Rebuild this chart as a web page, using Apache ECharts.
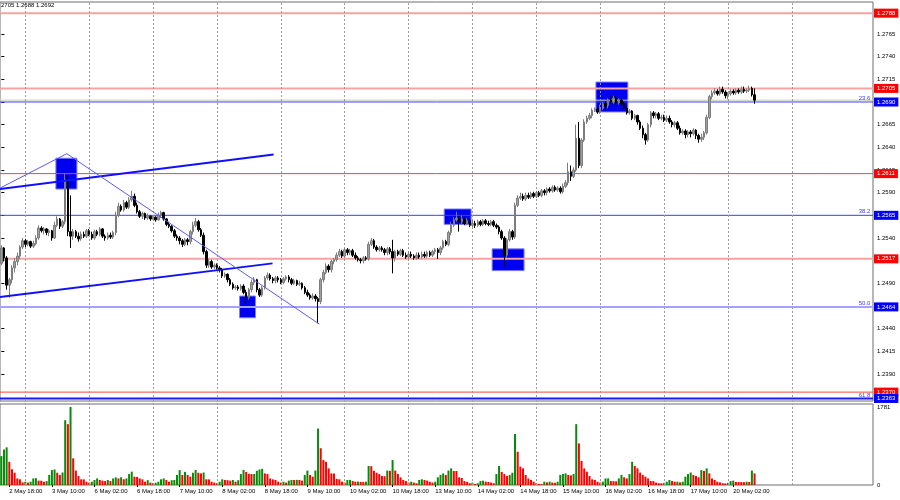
<!DOCTYPE html>
<html><head><meta charset="utf-8">
<script src="https://cdn.jsdelivr.net/npm/echarts@6/dist/echarts.min.js"></script>
<style>html,body{margin:0;padding:0;background:#fff}#c{width:900px;height:500px}</style>
</head><body><div id="c"></div>
<script>
// hourly bars GBPUSD H1, rows: [open, close, low, high]
const candles = [
[1.2512,1.2529,1.2510,1.2532],[1.2529,1.2518,1.2514,1.2530],[1.2518,1.2488,1.2483,1.2520],[1.2488,1.2494,1.2474,1.2496],[1.2494,1.2507,1.2490,1.2510],
[1.2507,1.2514,1.2502,1.2518],[1.2514,1.2520,1.2510,1.2524],[1.2520,1.2530,1.2517,1.2532],[1.2530,1.2537,1.2528,1.2540],[1.2537,1.2533,1.2530,1.2539],
[1.2533,1.2536,1.2531,1.2538],[1.2536,1.2531,1.2529,1.2537],[1.2531,1.2534,1.2529,1.2537],[1.2534,1.2540,1.2532,1.2543],[1.2540,1.2551,1.2538,1.2554],
[1.2551,1.2548,1.2546,1.2553],[1.2548,1.2550,1.2544,1.2552],[1.2550,1.2546,1.2543,1.2551],[1.2546,1.2548,1.2542,1.2550],[1.2548,1.2540,1.2537,1.2549],
[1.2540,1.2554,1.2539,1.2558],[1.2554,1.2561,1.2552,1.2564],[1.2561,1.2553,1.2550,1.2562],[1.2553,1.2558,1.2551,1.2560],[1.2558,1.2604,1.2555,1.2611],
[1.2604,1.2547,1.2542,1.2608],[1.2547,1.2542,1.2529,1.2587],[1.2542,1.2547,1.2538,1.2550],[1.2547,1.2542,1.2540,1.2549],[1.2542,1.2539,1.2536,1.2546],
[1.2539,1.2544,1.2537,1.2547],[1.2544,1.2542,1.2540,1.2547],[1.2542,1.2548,1.2540,1.2550],[1.2548,1.2544,1.2542,1.2550],[1.2544,1.2540,1.2538,1.2547],
[1.2540,1.2547,1.2538,1.2549],[1.2547,1.2544,1.2542,1.2549],[1.2544,1.2550,1.2542,1.2552],[1.2550,1.2542,1.2540,1.2551],[1.2542,1.2540,1.2537,1.2544],
[1.2540,1.2543,1.2538,1.2546],[1.2543,1.2541,1.2539,1.2546],[1.2541,1.2546,1.2539,1.2548],[1.2546,1.2565,1.2543,1.2569],[1.2565,1.2575,1.2563,1.2579],
[1.2575,1.2571,1.2569,1.2577],[1.2571,1.2579,1.2569,1.2582],[1.2579,1.2574,1.2572,1.2581],[1.2574,1.2582,1.2572,1.2585],[1.2582,1.2586,1.2580,1.2592],
[1.2586,1.2576,1.2574,1.2589],[1.2576,1.2569,1.2567,1.2579],[1.2569,1.2564,1.2562,1.2571],[1.2564,1.2567,1.2561,1.2569],[1.2567,1.2562,1.2560,1.2568],
[1.2562,1.2564,1.2560,1.2567],[1.2564,1.2561,1.2559,1.2565],[1.2561,1.2563,1.2560,1.2565],[1.2563,1.2560,1.2558,1.2564],[1.2560,1.2565,1.2559,1.2568],
[1.2565,1.2568,1.2562,1.2570],[1.2568,1.2561,1.2559,1.2569],[1.2561,1.2555,1.2553,1.2562],[1.2555,1.2553,1.2551,1.2558],[1.2553,1.2548,1.2546,1.2554],
[1.2548,1.2542,1.2540,1.2550],[1.2542,1.2540,1.2537,1.2544],[1.2540,1.2537,1.2533,1.2542],[1.2537,1.2533,1.2530,1.2539],[1.2533,1.2538,1.2531,1.2540],
[1.2538,1.2536,1.2532,1.2540],[1.2536,1.2547,1.2533,1.2549],[1.2547,1.2554,1.2544,1.2558],[1.2554,1.2558,1.2552,1.2562],[1.2558,1.2549,1.2547,1.2560],
[1.2549,1.2543,1.2541,1.2551],[1.2543,1.2525,1.2522,1.2546],[1.2525,1.2510,1.2507,1.2527],[1.2510,1.2514,1.2507,1.2517],[1.2514,1.2508,1.2506,1.2516],
[1.2508,1.2510,1.2506,1.2512],[1.2510,1.2507,1.2505,1.2512],[1.2507,1.2505,1.2502,1.2509],[1.2505,1.2498,1.2496,1.2507],[1.2498,1.2500,1.2496,1.2502],
[1.2500,1.2494,1.2491,1.2501],[1.2494,1.2489,1.2487,1.2496],[1.2489,1.2485,1.2483,1.2491],[1.2485,1.2486,1.2483,1.2488],[1.2486,1.2484,1.2482,1.2488],
[1.2484,1.2487,1.2482,1.2489],[1.2487,1.2480,1.2478,1.2489],[1.2480,1.2474,1.2468,1.2483],[1.2474,1.2483,1.2472,1.2485],[1.2483,1.2491,1.2480,1.2494],
[1.2491,1.2494,1.2488,1.2497],[1.2494,1.2483,1.2480,1.2495],[1.2483,1.2477,1.2475,1.2485],[1.2477,1.2485,1.2475,1.2487],[1.2485,1.2496,1.2483,1.2498],
[1.2496,1.2499,1.2494,1.2502],[1.2499,1.2495,1.2493,1.2501],[1.2495,1.2493,1.2490,1.2497],[1.2493,1.2496,1.2490,1.2498],[1.2496,1.2494,1.2491,1.2498],
[1.2494,1.2491,1.2489,1.2496],[1.2491,1.2495,1.2489,1.2497],[1.2495,1.2497,1.2493,1.2499],[1.2497,1.2494,1.2491,1.2499],[1.2494,1.2490,1.2488,1.2496],
[1.2490,1.2493,1.2488,1.2495],[1.2493,1.2489,1.2487,1.2494],[1.2489,1.2490,1.2487,1.2493],[1.2490,1.2485,1.2483,1.2491],[1.2485,1.2480,1.2478,1.2487],
[1.2480,1.2477,1.2475,1.2483],[1.2477,1.2474,1.2472,1.2479],[1.2474,1.2476,1.2472,1.2479],[1.2476,1.2473,1.2470,1.2478],[1.2473,1.2470,1.2446,1.2475],
[1.2470,1.2494,1.2467,1.2496],[1.2494,1.2502,1.2491,1.2505],[1.2502,1.2509,1.2500,1.2512],[1.2509,1.2505,1.2502,1.2511],[1.2505,1.2514,1.2502,1.2516],
[1.2514,1.2516,1.2511,1.2518],[1.2516,1.2521,1.2514,1.2524],[1.2521,1.2525,1.2519,1.2528],[1.2525,1.2520,1.2518,1.2527],[1.2520,1.2527,1.2518,1.2529],
[1.2527,1.2524,1.2521,1.2529],[1.2524,1.2526,1.2521,1.2528],[1.2526,1.2521,1.2519,1.2528],[1.2521,1.2518,1.2516,1.2524],[1.2518,1.2516,1.2514,1.2520],
[1.2516,1.2515,1.2512,1.2518],[1.2515,1.2518,1.2512,1.2520],[1.2518,1.2517,1.2515,1.2520],[1.2517,1.2533,1.2515,1.2536],[1.2533,1.2537,1.2531,1.2540],
[1.2537,1.2530,1.2528,1.2539],[1.2530,1.2527,1.2525,1.2532],[1.2527,1.2529,1.2525,1.2531],[1.2529,1.2527,1.2525,1.2531],[1.2527,1.2524,1.2521,1.2529],
[1.2524,1.2528,1.2521,1.2530],[1.2528,1.2525,1.2522,1.2530],[1.2525,1.2518,1.2501,1.2538],[1.2518,1.2525,1.2514,1.2527],[1.2525,1.2522,1.2520,1.2527],
[1.2522,1.2526,1.2520,1.2528],[1.2526,1.2521,1.2519,1.2528],[1.2521,1.2519,1.2517,1.2524],[1.2519,1.2522,1.2517,1.2525],[1.2522,1.2520,1.2518,1.2525],
[1.2520,1.2518,1.2516,1.2522],[1.2518,1.2521,1.2516,1.2524],[1.2521,1.2519,1.2517,1.2524],[1.2519,1.2522,1.2517,1.2525],[1.2522,1.2520,1.2518,1.2525],
[1.2520,1.2524,1.2518,1.2526],[1.2524,1.2521,1.2519,1.2526],[1.2521,1.2525,1.2519,1.2527],[1.2525,1.2527,1.2522,1.2529],[1.2527,1.2524,1.2517,1.2529],
[1.2524,1.2529,1.2521,1.2531],[1.2529,1.2536,1.2527,1.2538],[1.2536,1.2533,1.2531,1.2538],[1.2533,1.2546,1.2531,1.2548],[1.2546,1.2554,1.2543,1.2558],
[1.2554,1.2560,1.2552,1.2563],[1.2560,1.2562,1.2558,1.2569],[1.2562,1.2558,1.2547,1.2564],[1.2558,1.2561,1.2555,1.2565],[1.2561,1.2556,1.2554,1.2563],
[1.2556,1.2559,1.2554,1.2562],[1.2559,1.2554,1.2552,1.2561],[1.2554,1.2556,1.2552,1.2559],[1.2556,1.2554,1.2551,1.2559],[1.2554,1.2558,1.2552,1.2560],
[1.2558,1.2555,1.2553,1.2560],[1.2555,1.2559,1.2553,1.2561],[1.2559,1.2556,1.2554,1.2561],[1.2556,1.2555,1.2553,1.2559],[1.2555,1.2558,1.2553,1.2560],
[1.2558,1.2554,1.2552,1.2560],[1.2554,1.2552,1.2550,1.2556],[1.2552,1.2547,1.2544,1.2554],[1.2547,1.2540,1.2538,1.2549],[1.2540,1.2521,1.2508,1.2542],
[1.2521,1.2538,1.2518,1.2540],[1.2538,1.2547,1.2536,1.2550],[1.2547,1.2541,1.2538,1.2549],[1.2541,1.2576,1.2539,1.2579],[1.2576,1.2584,1.2574,1.2587],
[1.2584,1.2586,1.2582,1.2590],[1.2586,1.2583,1.2581,1.2589],[1.2583,1.2587,1.2581,1.2590],[1.2587,1.2585,1.2583,1.2590],[1.2585,1.2589,1.2583,1.2591],
[1.2589,1.2586,1.2584,1.2591],[1.2586,1.2590,1.2584,1.2592],[1.2590,1.2587,1.2585,1.2592],[1.2587,1.2592,1.2585,1.2594],[1.2592,1.2590,1.2587,1.2594],
[1.2590,1.2594,1.2587,1.2596],[1.2594,1.2592,1.2590,1.2596],[1.2592,1.2596,1.2590,1.2598],[1.2596,1.2593,1.2591,1.2598],[1.2593,1.2595,1.2591,1.2597],
[1.2595,1.2591,1.2589,1.2597],[1.2591,1.2597,1.2589,1.2600],[1.2597,1.2601,1.2595,1.2604],[1.2601,1.2613,1.2598,1.2623],[1.2613,1.2608,1.2603,1.2620],
[1.2608,1.2615,1.2606,1.2618],[1.2615,1.2650,1.2613,1.2665],[1.2650,1.2620,1.2617,1.2668],[1.2620,1.2648,1.2617,1.2650],[1.2648,1.2668,1.2646,1.2671],
[1.2668,1.2672,1.2666,1.2675],[1.2672,1.2675,1.2670,1.2678],[1.2675,1.2681,1.2672,1.2683],[1.2681,1.2682,1.2679,1.2684],[1.2682,1.2679,1.2677,1.2684],
[1.2679,1.2683,1.2677,1.2687],[1.2683,1.2688,1.2681,1.2690],[1.2688,1.2686,1.2683,1.2691],[1.2686,1.2692,1.2683,1.2694],[1.2692,1.2690,1.2688,1.2698],
[1.2690,1.2694,1.2688,1.2697],[1.2694,1.2689,1.2687,1.2697],[1.2689,1.2692,1.2687,1.2694],[1.2692,1.2688,1.2686,1.2694],[1.2688,1.2683,1.2681,1.2690],
[1.2683,1.2678,1.2676,1.2686],[1.2678,1.2680,1.2676,1.2682],[1.2680,1.2672,1.2670,1.2681],[1.2672,1.2675,1.2670,1.2677],[1.2675,1.2668,1.2665,1.2676],
[1.2668,1.2661,1.2659,1.2670],[1.2661,1.2654,1.2650,1.2664],[1.2654,1.2648,1.2643,1.2656],[1.2648,1.2665,1.2646,1.2667],[1.2665,1.2678,1.2662,1.2680],
[1.2678,1.2675,1.2672,1.2680],[1.2675,1.2677,1.2672,1.2679],[1.2677,1.2672,1.2670,1.2679],[1.2672,1.2673,1.2670,1.2676],[1.2673,1.2670,1.2668,1.2676],
[1.2670,1.2672,1.2668,1.2675],[1.2672,1.2668,1.2666,1.2675],[1.2668,1.2665,1.2662,1.2670],[1.2665,1.2667,1.2662,1.2669],[1.2667,1.2661,1.2659,1.2669],
[1.2661,1.2656,1.2654,1.2664],[1.2656,1.2658,1.2654,1.2660],[1.2658,1.2654,1.2650,1.2660],[1.2654,1.2657,1.2651,1.2659],[1.2657,1.2655,1.2651,1.2659],
[1.2655,1.2659,1.2653,1.2661],[1.2659,1.2653,1.2649,1.2660],[1.2653,1.2649,1.2645,1.2655],[1.2649,1.2651,1.2646,1.2655],[1.2651,1.2656,1.2648,1.2658],
[1.2656,1.2673,1.2654,1.2676],[1.2673,1.2696,1.2671,1.2698],[1.2696,1.2700,1.2693,1.2703],[1.2700,1.2702,1.2698,1.2705],[1.2702,1.2699,1.2697,1.2704],
[1.2699,1.2704,1.2697,1.2707],[1.2704,1.2701,1.2699,1.2707],[1.2701,1.2697,1.2694,1.2703],[1.2697,1.2699,1.2693,1.2701],[1.2699,1.2702,1.2697,1.2704],
[1.2702,1.2700,1.2698,1.2704],[1.2700,1.2703,1.2698,1.2705],[1.2703,1.2701,1.2699,1.2705],[1.2701,1.2704,1.2699,1.2707],[1.2704,1.2702,1.2700,1.2707],
[1.2702,1.2703,1.2700,1.2705],[1.2703,1.2705,1.2701,1.2708],[1.2705,1.2698,1.2696,1.2707],[1.2698,1.2692,1.2688,1.2705]
];
const volumes = [
660,810,860,530,360,280,150,130,60,75, 55,75,150,155,100,98,75,90,230,340,
355,280,230,285,1480,1390,1781,610,330,205, 130,128,75,55,75,115,150,115,100,90,
115,90,150,175,150,175,130,150,250,305, 190,185,150,130,75,110,55,40,50,75,
130,150,115,75,110,115,230,340,230,300, 228,190,280,342,280,265,285,130,128,75,
55,40,75,130,115,110,100,115,75,110, 250,345,300,255,250,252,325,355,370,265,
250,150,130,115,75,55,75,55,100,115, 115,118,115,100,230,330,230,190,330,1290,
840,570,530,380,265,262,140,130,75,55, 115,118,90,75,78,70,68,75,435,430,
325,280,250,205,200,330,325,570,330,250, 175,115,90,55,75,55,40,115,130,115,
100,75,55,75,175,230,265,230,330,380, 320,320,175,160,90,70,40,55,25,40,
90,100,75,70,55,40,250,435,300,250, 205,230,280,1165,760,420,380,230,150,115,
75,40,25,20,75,60,75,55,50,75, 230,250,265,230,220,250,1390,950,550,380,
305,205,130,115,75,55,75,150,152,90, 88,85,150,230,175,150,250,530,435,380,
285,230,190,150,90,88,55,40,38,50, 75,115,90,75,76,60,75,190,250,285,
230,205,175,340,320,380,265,150,115,75, 60,40,35,50,90,100,70,68,66,64,
75,70,330,265
];
const tickLabels = ['2 May 18:00','3 May 10:00','6 May 02:00','6 May 18:00','7 May 10:00','8 May 02:00','8 May 18:00','9 May 10:00','10 May 02:00','10 May 18:00','13 May 10:00','14 May 02:00','14 May 18:00','15 May 10:00','16 May 02:00','16 May 18:00','17 May 10:00','20 May 02:00'];
const priceTicks = [1.2390,1.2415,1.2440,1.2465,1.2490,1.2515,1.2540,1.2565,1.2590,1.2615,1.2640,1.2665,1.2690,1.2715,1.2740,1.2765];
const volumeTicks = [0,1781];
const levelPrices = [1.2788,1.2705,1.2690,1.2611,1.2565,1.2517,1.2464,1.2370,1.2363];
const levelLineColors = ['#f5a3a3','#f5a3a3','#3c3cff','#ff4040','#3c3cff','#f5a3a3','#a3a3ff','#ff4040','#1a1aff'];
const levelLineWidths = [2,2,1,1,1,2,2,1,2];
const levelBoxColors = ['#ff0000','#ff0000','#0000ff','#ff0000','#0000ff','#ff0000','#0000ff','#ff0000','#0000ff'];
const fibPrices = [1.2690,1.2565,1.2464,1.2363];
const fibTexts = ['23.6','38.2','50.0','61.8'];
const bidPrice = 1.2692;
const dayStartBars = [9,33,57,81,105,129,153,177,201,225,249,273,297];
const channelUpper = [[-0.5,1.2594],[102.3,1.2632]];
const channelLower = [[-0.5,1.2475],[101.9,1.2512]];
const fibTriangle = [[-0.5,1.2595],[24.6,1.2633],[119.5,1.2445]];
const boxes = [[20.5,1.2628,28.4,1.2594],[89.5,1.2476,95.5,1.2452],[166.4,1.2572,176.5,1.2555],[184.4,1.2528,196.4,1.2504],[223.4,1.2712,235.4,1.2679]];
const headerText = '2705 1.2688 1.2692';

// hourly category slots (weekends skipped), incl. empty future slots
const SLOTS = 328;
const categories = [];
(function(){
  let t = Date.UTC(2024,4,2,15);
  while (categories.length < SLOTS) {
    const d = new Date(t);
    const wd = d.getUTCDay();
    if (wd !== 0 && wd !== 6) {
      categories.push(d.getUTCDate() + ' May ' + String(d.getUTCHours()).padStart(2,'0') + ':00');
    }
    t += 3600000;
  }
})();
const labelSet = new Set(tickLabels);
const XMIN = -0.5, XMAX = SLOTS - 0.5;

const FONT = 'Liberation Sans';
const chart = echarts.init(document.getElementById('c'), null, {renderer:'canvas'});

// horizontal levels as full-width line series on the hidden value x axis
const levelSeries = levelPrices.map((p,k)=>({
  type:'line', xAxisIndex:2, yAxisIndex:0, z:4, silent:true, showSymbol:false,
  data:[[XMIN,p],[XMAX,p]],
  lineStyle:{color:levelLineColors[k], width:levelLineWidths[k]},
  endLabel:{show:true, formatter:p.toFixed(4), color:'#fff', backgroundColor:levelBoxColors[k], fontSize:6, fontFamily:FONT, padding:[2,3,1,3], distance:1}
}));
const fibSeries = fibPrices.map((p,k)=>({
  type:'line', xAxisIndex:2, yAxisIndex:0, z:4, silent:true, clip:false,
  data:[[XMAX-1,p]],
  lineStyle:{width:0},
  symbol:'rect', symbolSize:1, showSymbol:true,
  itemStyle:{color:'rgba(0,0,0,0)', borderWidth:0},
  label:{show:true, position:'top', align:'right', distance:0, formatter:fibTexts[k], color:'#4040ff', fontSize:6, fontFamily:FONT}
}));

const vGrid = () => ({
  symbol:'none', silent:true, animation:false,
  lineStyle:{color:'#9a9a9a', type:[2,2], width:1},
  label:{show:false},
  data: dayStartBars.map(b=>({xAxis:b}))
});

const option = {
  animation:false,
  backgroundColor:'#ffffff',
  textStyle:{fontFamily:FONT},
  grid:[
    {left:-2, right:27, top:2, height:399, show:true, borderColor:'#6e6e6e', borderWidth:1, backgroundColor:'transparent'},
    {left:-2, right:27, top:404, height:81, show:true, borderColor:'#6e6e6e', borderWidth:1, backgroundColor:'transparent'}
  ],
  xAxis:[
    {type:'category', gridIndex:0, data:categories, boundaryGap:true, axisLine:{show:false}, axisTick:{show:false}, axisLabel:{show:false}, splitLine:{show:false}},
    {type:'category', gridIndex:1, data:categories, boundaryGap:true,
      axisLine:{show:false},
      axisTick:{show:true, alignWithLabel:true, length:2, interval:(i,v)=>labelSet.has(v), lineStyle:{color:'#000'}},
      axisLabel:{show:true, interval:(i,v)=>labelSet.has(v), align:'left', fontSize:6, color:'#000', margin:3, fontFamily:FONT},
      splitLine:{show:false}},
    {type:'value', gridIndex:0, min:XMIN, max:XMAX, show:false}
  ],
  yAxis:[
    {type:'value', gridIndex:0, position:'right', min:1.23602, max:1.28003, scale:true,
      axisLine:{show:false},
      axisTick:{show:true, length:3, customValues:priceTicks, lineStyle:{color:'#000'}},
      axisLabel:{show:true, customValues:priceTicks, formatter:v=>v.toFixed(4), fontSize:6, color:'#000', margin:4, fontFamily:FONT},
      splitLine:{show:false}},
    {type:'value', gridIndex:1, position:'right', min:0, max:1850,
      axisLine:{show:false},
      axisTick:{show:false},
      axisLabel:{show:true, customValues:volumeTicks, formatter:v=>String(v), fontSize:6, color:'#000', margin:4, fontFamily:FONT},
      splitLine:{show:false}}
  ],
  graphic:[
    {type:'text', left:1, top:2, z:100, style:{text:headerText, fontSize:6, fontFamily:FONT, fill:'#000'}}
  ],
  series:[
    {type:'candlestick', name:'price', xAxisIndex:0, yAxisIndex:0, data:candles, barWidth:2, z:5,
      itemStyle:{color:'#a0a0a0', color0:'#000000', borderColor:'#7c7c7c', borderColor0:'#000000', borderWidth:1},
      markLine:vGrid()},
    {type:'line', name:'boxes', xAxisIndex:2, yAxisIndex:0, data:[[-20,1.25]], showSymbol:false, lineStyle:{opacity:0}, z:2, silent:true,
      markArea:{silent:true, itemStyle:{color:'#0000f0', borderColor:'#8080ff', borderWidth:1},
        data: boxes.map(b=>[{coord:[b[0],b[1]]},{coord:[b[2],b[3]]}])}},
    {type:'line', name:'bid', xAxisIndex:2, yAxisIndex:0, data:[[XMIN,bidPrice],[XMAX,bidPrice]], showSymbol:false, z:3, silent:true, lineStyle:{color:'#c8c8c8', width:1}},
    ...levelSeries,
    ...fibSeries,
    {type:'line', name:'upper', xAxisIndex:2, yAxisIndex:0, data:channelUpper, showSymbol:false, z:6, silent:true, lineStyle:{color:'#1010ff', width:2}},
    {type:'line', name:'lower', xAxisIndex:2, yAxisIndex:0, data:channelLower, showSymbol:false, z:6, silent:true, lineStyle:{color:'#1010ff', width:2}},
    {type:'line', name:'fib', xAxisIndex:2, yAxisIndex:0, data:fibTriangle, showSymbol:false, z:6, silent:true, lineStyle:{color:'#5a5aff', width:1}},
    {type:'bar', name:'volume', xAxisIndex:1, yAxisIndex:1, barWidth:2, z:3,
      data: volumes.map((v,i)=>({value:v, itemStyle:{color:(i===0||v>volumes[i-1])?'#0a8a0a':'#ff0000'}})),
      markLine:vGrid()}
  ]
};
chart.setOption(option);
</script>
</body></html>
